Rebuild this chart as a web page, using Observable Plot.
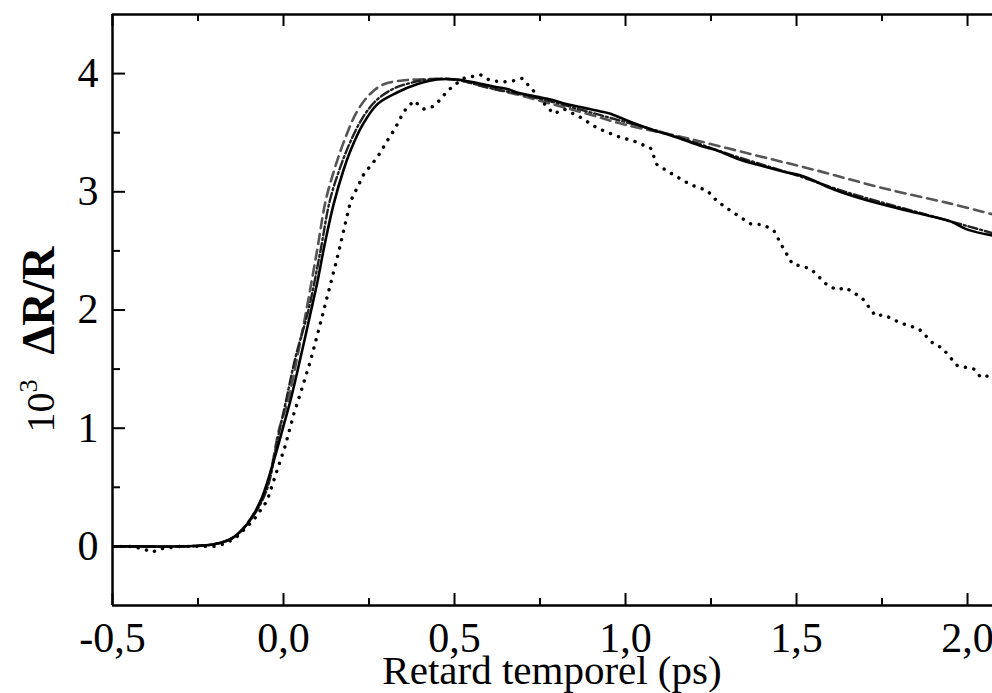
<!DOCTYPE html>
<html>
<head>
<meta charset="utf-8">
<script src="https://cdn.jsdelivr.net/npm/d3@7"></script>
<script src="https://cdn.jsdelivr.net/npm/@observablehq/plot@0.6"></script>
<style>
  html, body { margin: 0; padding: 0; background: #fff; }
  #chart svg { display: block; }
</style>
</head>
<body>
<div id="chart"></div>
<script>
// ---- Data ----
const solidT = [-0.5, -0.4, -0.3, -0.25, -0.2, -0.15, -0.106, -0.067, -0.026, 0.0, 0.02, 0.05, 0.081, 0.1, 0.12, 0.147, 0.175, 0.196, 0.23, 0.274, 0.332, 0.39, 0.449, 0.508, 0.566, 0.614, 0.654, 0.683, 0.731, 0.781, 0.83, 0.878, 0.927, 0.956, 1.015, 1.073, 1.151, 1.219, 1.268, 1.327, 1.385, 1.463, 1.521, 1.609, 1.716, 1.853, 1.95, 2.0, 2.073];
const solidV = [0, 0, 0, 0.005, 0.02, 0.07, 0.19, 0.385, 0.75, 1.02, 1.23, 1.6, 2.0, 2.25, 2.55, 2.9, 3.18, 3.35, 3.56, 3.74, 3.84, 3.91, 3.95, 3.95, 3.92, 3.89, 3.87, 3.84, 3.81, 3.78, 3.74, 3.71, 3.68, 3.66, 3.59, 3.53, 3.46, 3.39, 3.35, 3.28, 3.23, 3.17, 3.13, 3.02, 2.92, 2.82, 2.75, 2.68, 2.63];

const dashDotT = [-0.5, -0.3, -0.2, -0.15, -0.1, -0.05, -0.018, 0.005, 0.035, 0.073, 0.108, 0.135, 0.165, 0.195, 0.23, 0.27, 0.32, 0.37, 0.42, 0.5, 0.6, 0.7, 0.8, 0.9, 1.0, 1.1, 1.2, 1.3, 1.4, 1.5, 1.6, 1.7, 1.8, 1.9, 2.0, 2.073];
const dashDotV = [0, 0, 0.02, 0.07, 0.21, 0.47, 0.9, 1.2, 1.6, 2.0, 2.5, 2.92, 3.2, 3.42, 3.62, 3.77, 3.87, 3.92, 3.95, 3.95, 3.88, 3.82, 3.75, 3.67, 3.59, 3.51, 3.42, 3.32, 3.23, 3.14, 3.04, 2.95, 2.87, 2.79, 2.71, 2.65];

const dashedT = [-0.5, -0.3, -0.2, -0.15, -0.1, -0.05, -0.012, 0.013, 0.04, 0.067, 0.098, 0.123, 0.15, 0.18, 0.215, 0.254, 0.293, 0.342, 0.39, 0.5, 0.6, 0.7, 0.8, 0.9, 0.996, 1.17, 1.365, 1.56, 1.754, 1.95, 2.073];
const dashedV = [0, 0, 0.02, 0.07, 0.22, 0.5, 1.0, 1.23, 1.6, 2.0, 2.5, 2.92, 3.2, 3.45, 3.68, 3.83, 3.91, 3.94, 3.95, 3.95, 3.88, 3.81, 3.73, 3.65, 3.57, 3.46, 3.32, 3.18, 3.03, 2.90, 2.81];

const dottedT = [-0.5, -0.45, -0.41, -0.385, -0.36, -0.3, -0.25, -0.2, -0.175, -0.14, -0.106, -0.088, -0.048, -0.018, 0.005, 0.03, 0.05, 0.079, 0.117, 0.157, 0.196, 0.235, 0.274, 0.303, 0.327, 0.352, 0.381, 0.41, 0.435, 0.459, 0.478, 0.503, 0.527, 0.576, 0.605, 0.644, 0.673, 0.698, 0.732, 0.761, 0.79, 0.82, 0.868, 0.917, 0.975, 1.024, 1.073, 1.092, 1.131, 1.19, 1.239, 1.268, 1.307, 1.365, 1.404, 1.434, 1.458, 1.488, 1.541, 1.59, 1.619, 1.643, 1.692, 1.731, 1.755, 1.804, 1.858, 1.902, 1.926, 1.946, 1.97, 2.019, 2.039, 2.073];
const dottedV = [0, 0, -0.02, -0.05, -0.02, 0, 0, 0, 0.02, 0.07, 0.17, 0.22, 0.385, 0.65, 0.85, 1.12, 1.3, 1.57, 1.99, 2.44, 2.92, 3.15, 3.29, 3.43, 3.54, 3.68, 3.77, 3.70, 3.72, 3.78, 3.85, 3.91, 3.96, 3.99, 3.94, 3.93, 3.94, 3.96, 3.85, 3.75, 3.66, 3.70, 3.63, 3.54, 3.47, 3.43, 3.37, 3.23, 3.16, 3.06, 3.01, 2.92, 2.84, 2.73, 2.72, 2.67, 2.54, 2.39, 2.35, 2.21, 2.17, 2.19, 2.10, 1.95, 1.96, 1.89, 1.84, 1.71, 1.68, 1.61, 1.53, 1.50, 1.43, 1.45];

const xMajorTicks = [-0.5, 0, 0.5, 1, 1.5, 2];
const xMinorTicks = [-0.25, 0.25, 0.75, 1.25, 1.75];
const yMajorTicks = [0, 1, 2, 3, 4];
const yMinorTicks = [0.5, 1.5, 2.5, 3.5];
const xDomain = [-0.5, 2.073];
const yDomain = [-0.5, 4.5];
const xTitle = "Retard temporel (ps)";

// ---- Layout ----
const W = 992, H = 693;
const mL = 112, mT = 14, mB = 88, mR = 0;
const frameW = W - mL - mR, frameH = H - mT - mB;
const majorLen = 12, minorLen = 7;
const FONT = "Liberation Serif, 'Times New Roman', serif";
const tickFont = 42;

const chart = Plot.plot({
  width: W,
  height: H,
  marginLeft: mL,
  marginTop: mT,
  marginBottom: mB,
  marginRight: mR,
  style: { fontFamily: FONT, fontSize: tickFont + "px", background: "#fff", color: "#000", overflow: "visible" },
  x: { domain: xDomain },
  y: { domain: yDomain },
  marks: [
    // frame (left, top, bottom)
    Plot.ruleX([xDomain[0]], { stroke: "#000", strokeWidth: 2.5 }),
    Plot.ruleY([yDomain[0]], { stroke: "#000", strokeWidth: 2.5 }),
    Plot.ruleY([yDomain[1]], { stroke: "#000", strokeWidth: 2.5 }),
    // inward ticks, bottom
    Plot.ruleX(xMajorTicks, { x: d => d, insetTop: frameH - majorLen, stroke: "#000", strokeWidth: 2 }),
    Plot.ruleX(xMinorTicks, { x: d => d, insetTop: frameH - minorLen, stroke: "#000", strokeWidth: 2 }),
    // inward ticks, top
    Plot.ruleX(xMajorTicks, { x: d => d, insetBottom: frameH - majorLen, stroke: "#000", strokeWidth: 2 }),
    Plot.ruleX(xMinorTicks, { x: d => d, insetBottom: frameH - minorLen, stroke: "#000", strokeWidth: 2 }),
    // inward ticks, left
    Plot.ruleY(yMajorTicks, { y: d => d, insetRight: frameW - majorLen - 1, stroke: "#000", strokeWidth: 2 }),
    Plot.ruleY(yMinorTicks, { y: d => d, insetRight: frameW - minorLen - 1, stroke: "#000", strokeWidth: 2 }),
    // tick labels
    Plot.axisX({ ticks: xMajorTicks, tickSize: 0, tickPadding: 17, fontSize: tickFont, label: null,
      tickFormat: d => d.toFixed(1).replace(".", ",") }),
    Plot.axisY({ ticks: yMajorTicks, tickSize: 0, tickPadding: 14, fontSize: tickFont, label: null,
      tickFormat: d => String(d) }),
    // curves
    Plot.line(dashedT, { x: dashedT, y: dashedV, stroke: "#555", strokeWidth: 2.6, strokeDasharray: "10,6", curve: "catmull-rom", clip: true }),
    Plot.line(dashDotT, { x: dashDotT, y: dashDotV, stroke: "#222", strokeWidth: 2.4, strokeDasharray: "9,3,2,3", curve: "catmull-rom", clip: true }),
    Plot.line(solidT, { x: solidT, y: solidV, stroke: "#000", strokeWidth: 2.6, curve: "catmull-rom", clip: true }),
    Plot.line(dottedT, { x: dottedT, y: dottedV, stroke: "#000", strokeWidth: 3.4, strokeDasharray: "0.1,8.5", strokeLinecap: "round", curve: "linear", clip: true })
  ]
});

const svg = d3.select(chart);
// make sure tick labels get the large serif size
svg.selectAll('g[aria-label="x-axis tick label"], g[aria-label="y-axis tick label"]')
  .attr("font-size", tickFont)
  .style("font-size", tickFont + "px");

// x title
svg.append("text")
  .attr("x", mL + frameW / 2)
  .attr("y", 684)
  .attr("text-anchor", "middle")
  .attr("font-family", FONT)
  .style("font-size", "41px")
  .attr("fill", "#000")
  .text(xTitle);

// y title: 10^3  ΔR/R
const yt = svg.append("text")
  .attr("transform", `translate(54, ${mT + frameH / 2 + 30}) rotate(-90)`)
  .attr("text-anchor", "middle")
  .attr("font-family", FONT)
  .style("font-size", "40px")
  .attr("fill", "#000");
yt.append("tspan").text("10");
yt.append("tspan").style("font-size", "26px").attr("dy", -17).text("3");
yt.append("tspan").attr("dy", 17).attr("dx", 25).attr("font-weight", "bold").style("font-size", "46px").text("ΔR/R");

document.getElementById("chart").appendChild(chart);
</script>
</body>
</html>
